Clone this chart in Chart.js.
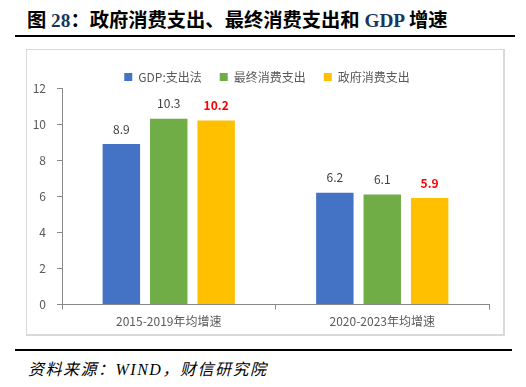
<!DOCTYPE html>
<html>
<head>
<meta charset="utf-8">
<script src="https://cdn.jsdelivr.net/npm/chart.js@4.4.0/dist/chart.umd.min.js"></script>
<style>
  body { margin: 0; width: 526px; height: 387px; background: #fff; position: relative; overflow: hidden; }
  .title { position: absolute; left: 27px; top: 5px; font: bold 19.3px "Liberation Serif", "Noto Sans CJK SC", serif; color: #000; white-space: nowrap; }
  .title .num { color: #17365d; }
  .rule-top { position: absolute; left: 15px; top: 35px; width: 500px; height: 2px; background: #000; }
  .box { position: absolute; left: 26px; top: 49px; width: 476px; height: 284px; border: 1px solid #d9d9d9; border-right-width: 2px; border-bottom-width: 2px; }
  .box canvas { position: absolute; left: 0; top: 0; }
  .rule-bottom { position: absolute; left: 15px; top: 349px; width: 497px; height: 2px; background: #000; }
  .source { position: absolute; left: 28px; top: 356px; font: italic 16px "Liberation Serif", "Noto Sans CJK SC", serif; letter-spacing: 1.5px; color: #000; white-space: nowrap; }
</style>
</head>
<body>
<div class="title">图 <span class="num">28</span>：政府消费支出、最终消费支出和 <span class="num">GDP</span> 增速</div>
<div class="rule-top"></div>
<div class="box"><canvas id="myChart" width="476" height="284"></canvas></div>
<div class="rule-bottom"></div>
<div class="source">资料来源：WIND，财信研究院</div>

<script>
const categories = ['2015-2019年均增速', '2020-2023年均增速'];
const seriesNames = ['GDP:支出法', '最终消费支出', '政府消费支出'];
const gdpValues = [8.9, 6.2];
const finalConsValues = [10.3, 6.1];
const govConsValues = [10.2, 5.9];
const yTicks = [0, 2, 4, 6, 8, 10, 12];

const colors = ['#4472c4', '#70ad47', '#ffc000'];
const fontFamily = '"Noto Sans CJK SC", "Open Sans", sans-serif';

// value labels above bars, last series in red bold
const barLabels = {
  id: 'barLabels',
  afterDatasetsDraw(chart) {
    const ctx = chart.ctx;
    ctx.save();
    ctx.textAlign = 'center';
    ctx.textBaseline = 'middle';
    chart.data.datasets.forEach((ds, i) => {
      const meta = chart.getDatasetMeta(i);
      meta.data.forEach((bar, j) => {
        if (i === 2) {
          ctx.fillStyle = '#ff0000';
          ctx.font = 'bold 12px ' + fontFamily;
        } else {
          ctx.fillStyle = '#404040';
          ctx.font = '12px ' + fontFamily;
        }
        ctx.fillText(ds.data[j].toFixed(1), bar.x, bar.y - 15);
      });
    });
    ctx.restore();
  }
};

// keep the legend box short and nudge it a bit to the right
const legendTweak = {
  id: 'legendTweak',
  beforeLayout(chart) {
    const lg = chart.legend;
    if (lg && !lg._tweaked) {
      const origFit = lg.fit.bind(lg);
      lg.fit = function () {
        origFit();
        this.height = 35;
      };
      lg._tweaked = true;
    }
  },
  afterLayout(chart) {
    const lg = chart.legend;
    lg.left += 9;
    lg.right += 9;
  }
};

const ctx = document.getElementById('myChart').getContext('2d');
const myChart = new Chart(ctx, {
  type: 'bar',
  data: {
    labels: categories,
    datasets: [
      { label: seriesNames[0], data: gdpValues, backgroundColor: colors[0] },
      { label: seriesNames[1], data: finalConsValues, backgroundColor: colors[1] },
      { label: seriesNames[2], data: govConsValues, backgroundColor: colors[2] }
    ]
  },
  options: {
    responsive: false,
    animation: false,
    categoryPercentage: 0.666,
    barPercentage: 0.79,
    layout: { padding: { top: 3, right: 14, bottom: 0, left: 0 } },
    plugins: {
      legend: {
        position: 'top',
        labels: {
          boxWidth: 8,
          boxHeight: 8,
          padding: 18,
          color: '#595959',
          font: { size: 12, family: fontFamily }
        }
      },
      tooltip: { enabled: false }
    },
    scales: {
      x: {
        grid: { drawOnChartArea: false, color: '#898989', tickLength: 5 },
        border: { color: '#898989' },
        ticks: { color: '#595959', padding: 5, font: { size: 12, family: fontFamily } }
      },
      y: {
        min: 0,
        max: 12,
        afterFit(scale) { scale.width = 35; },
        afterBuildTicks(scale) { scale.ticks = yTicks.map(v => ({ value: v })); },
        grid: { drawOnChartArea: false, color: '#898989', tickLength: 5 },
        border: { color: '#898989' },
        ticks: { color: '#595959', padding: 11, font: { size: 12, family: fontFamily } }
      }
    }
  },
  plugins: [barLabels, legendTweak]
});
</script>
</body>
</html>
